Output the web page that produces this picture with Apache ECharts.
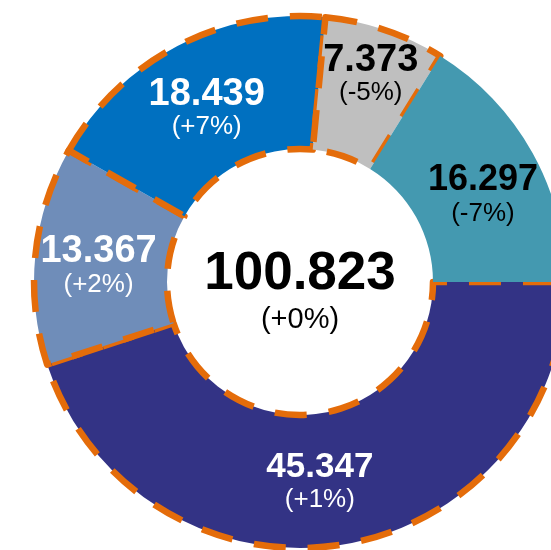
<!DOCTYPE html>
<html>
<head>
<meta charset="utf-8">
<script src="https://cdn.jsdelivr.net/npm/echarts@6/dist/echarts.min.js"></script>
<style>
html, body { margin: 0; padding: 0; background: #fff; }
#chart { width: 551px; height: 550px; }
</style>
</head>
<body>
<div id="chart"></div>
<script>
// values clockwise from 3 o'clock
var values = [45.347, 13.367, 18.439, 7.373, 16.297];
var changes = ['+1%', '+2%', '+7%', '-5%', '-7%'];
var colors = ['#333385', '#6F8DB9', '#0070C0', '#BFBFBF', '#4499B0'];
var textColors = ['#fff', '#fff', '#fff', '#000', '#000'];
var dashed = [true, true, true, true, false];
var totalChange = '+0%';

// label tweaks per slice: value font size, padding to nudge the text
var valueSizes = [35, 38, 38, 38, 36];
var labelPads = [[0, 24, 0, 0], [10, 0, 0, 0], [14, 0, 0, 0], [0, 0, 30, 12], [24, 0, 0, 12]];

var total = 0;
values.forEach(function (v) { total += v; });

var myChart = echarts.init(document.getElementById('chart'));

var data = values.map(function (v, i) {
    return {
        value: v,
        change: changes[i],
        itemStyle: {
            color: colors[i],
            borderColor: '#E46C0A',
            borderWidth: dashed[i] ? 6.5 : 0,
            borderType: [32, 22]
        },
        label: {
            padding: labelPads[i],
            rich: {
                v: { color: textColors[i], fontSize: valueSizes[i] },
                p: { color: textColors[i] }
            }
        }
    };
});

var option = {
    animation: false,
    series: [
        {
            type: 'pie',
            center: [300, 282],
            radius: [133, 266],
            startAngle: 0,
            clockwise: true,
            silent: true,
            data: data,
            label: {
                show: true,
                position: 'inside',
                formatter: function (p) {
                    return '{v|' + p.value.toFixed(3) + '}\n{p|(' + p.data.change + ')}';
                },
                rich: {
                    v: {
                        fontFamily: 'Liberation Sans',
                        fontWeight: 'bold',
                        fontSize: 36,
                        lineHeight: 36
                    },
                    p: {
                        fontFamily: 'Liberation Sans',
                        fontSize: 26,
                        lineHeight: 30
                    }
                }
            },
            labelLine: { show: false },
            emphasis: { disabled: true }
        }
    ],
    graphic: [
        {
            type: 'text',
            x: 300,
            y: 292,
            style: {
                text: '{v|' + total.toFixed(3) + '}\n{p|(' + totalChange + ')}',
                align: 'center',
                verticalAlign: 'middle',
                rich: {
                    v: {
                        fontFamily: 'Liberation Sans',
                        fontWeight: 'bold',
                        fontSize: 53,
                        lineHeight: 56,
                        fill: '#000',
                        align: 'center'
                    },
                    p: {
                        fontFamily: 'Liberation Sans',
                        fontSize: 29,
                        lineHeight: 36,
                        fill: '#000',
                        align: 'center'
                    }
                }
            }
        }
    ]
};
myChart.setOption(option);
</script>
</body>
</html>
